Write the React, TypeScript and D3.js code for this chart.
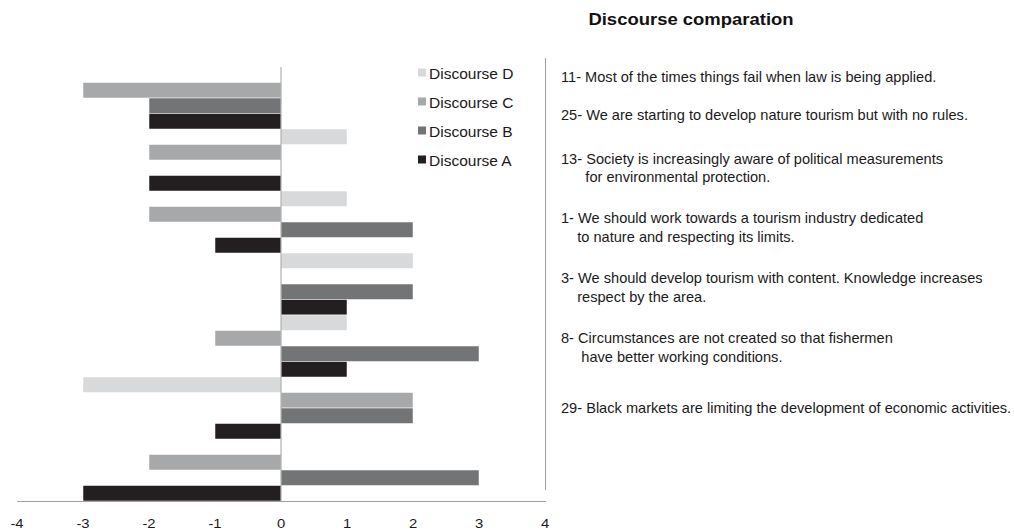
import React from "react";
import * as d3 from "d3";

const statements = ["11", "25", "13", "1", "3", "8", "29"];
const seriesNames = ["Discourse D", "Discourse C", "Discourse B", "Discourse A"];
const discourseD = [0, 1, 1, 2, 1, -3, 0];
const discourseC = [-3, -2, -2, 0, -1, 2, -2];
const discourseB = [-2, 0, 2, 2, 3, 2, 3];
const discourseA = [-2, -2, -1, 1, 1, -1, -3];
const seriesColors = ["#d8d9da", "#a7a8aa", "#737476", "#231f20"];
const xTicks = [-4, -3, -2, -1, 0, 1, 2, 3, 4];
const title = "Discourse comparation";
const notes: string[][] = [
  ["11- Most of the times things fail when law is being applied."],
  ["25- We are starting to develop nature tourism but with no rules."],
  ["13- Society is increasingly aware of political measurements", "      for environmental protection."],
  ["1- We should work towards a tourism industry dedicated", "    to nature and respecting its limits."],
  ["3- We should develop tourism with content. Knowledge increases", "    respect by the area."],
  ["8- Circumstances are not created so that fishermen", "     have better working conditions."],
  ["29- Black markets are limiting the development of economic activities."],
];

const FONT = "'Liberation Sans', Arial, Helvetica, sans-serif";

export default function App() {
  const series = [discourseD, discourseC, discourseB, discourseA];
  const x = d3.scaleLinear().domain([-4, 4]).range([17, 545]);
  const y0 = d3.scaleBand<string>().domain(statements).range([67, 501]).padding(0);
  const y1 = d3.scaleBand<string>().domain(seriesNames).range([0, y0.bandwidth()]).padding(0);

  const noteBaselines = [81.5, 119.5, 163.5, 223, 283, 343, 413];
  const noteLineGap = 18.5;

  return (
    <svg
      width={1014}
      height={532}
      style={{ position: "absolute", left: 0, top: 0, background: "#fff" }}
      fontFamily={FONT}
    >
      <rect x={0} y={0} width={1014} height={532} fill="#fff" />
      {/* bars */}
      {statements.map((s, gi) => (
        <g key={s}>
          {series.map((vals, si) => {
            const v = vals[gi];
            if (v === 0) return null;
            const xa = x(Math.min(0, v));
            const xb = x(Math.max(0, v));
            return (
              <rect
                key={si}
                x={xa}
                y={(y0(s) as number) + (y1(seriesNames[si]) as number)}
                width={xb - xa}
                height={y1.bandwidth()}
                fill={seriesColors[si]}
                stroke="#ffffff"
                strokeWidth={0.5}
              />
            );
          })}
        </g>
      ))}
      {/* zero line */}
      <line x1={x(0)} x2={x(0)} y1={67} y2={501} stroke="#a0a0a0" strokeWidth={1} />
      {/* x axis */}
      <line x1={x(-4)} x2={x(4) + 1} y1={501.5} y2={501.5} stroke="#a0a0a0" strokeWidth={1} />
      {xTicks.map((t) => (
        <text
          key={t}
          x={0}
          y={0}
          transform={`translate(${x(t)},528) scale(1.1,1)`}
          textAnchor="middle"
          fontSize={13.5}
          fill="#1a1a1a"
        >
          {t}
        </text>
      ))}
      {/* separator */}
      <line x1={545.5} x2={545.5} y1={58} y2={490} stroke="#a0a0a0" strokeWidth={1} />
      {/* legend */}
      {seriesNames.map((n, i) => (
        <g key={n}>
          <rect x={418} y={68.5 + i * 29} width={8} height={8} fill={seriesColors[i]} />
          <text x={429} y={78.5 + i * 29} fontSize={15.5} fill="#1a1a1a">
            {n}
          </text>
        </g>
      ))}
      {/* title */}
      <text
        x={0}
        y={0}
        transform={`translate(691,25) scale(1.12,1)`}
        textAnchor="middle"
        fontSize={16.5}
        fontWeight="bold"
        fill="#111"
      >
        {title}
      </text>
      {/* notes */}
      {notes.map((lines, i) => (
        <text key={i} x={561} y={noteBaselines[i]} fontSize={14.6} fill="#1a1a1a" style={{ whiteSpace: "pre" }}>
          {lines.map((ln, j) => (
            <tspan key={j} x={561} y={noteBaselines[i] + j * noteLineGap}>
              {ln}
            </tspan>
          ))}
        </text>
      ))}
    </svg>
  );
}
